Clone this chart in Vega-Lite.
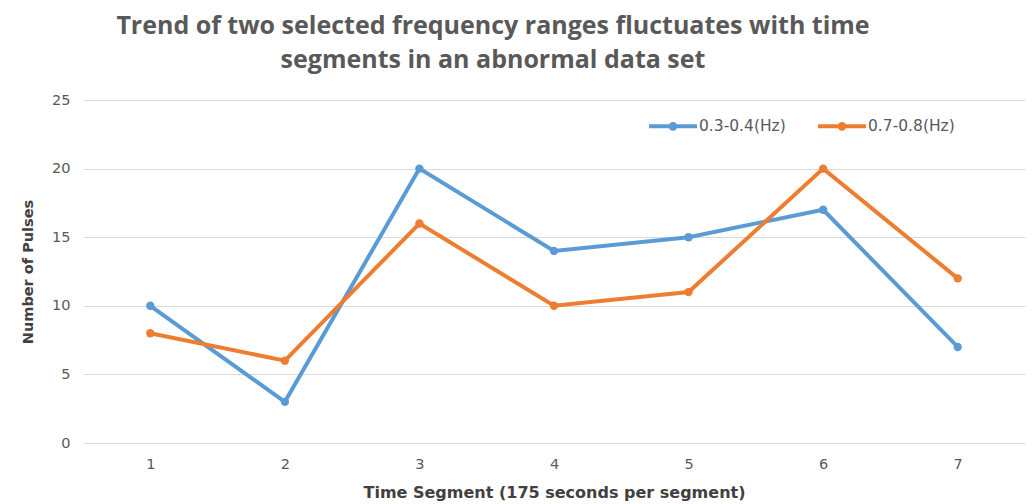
{
  "$schema": "https://vega.github.io/schema/vega-lite/v6.json",
  "autosize": "none",
  "width": 942,
  "height": 343,
  "padding": {"left": 83, "top": 100, "right": 8, "bottom": 61},
  "background": "white",
  "view": {"stroke": null},
  "title": {
    "text": ["Trend of two selected frequency ranges fluctuates with time", "segments in an abnormal data set"],
    "font": "Open Sans",
    "fontSize": 25,
    "fontWeight": "bold",
    "color": "#595959",
    "anchor": "middle",
    "dx": -61,
    "offset": 19,
    "lineHeight": 34
  },
  "data": {
    "values": [
      {"segment": "1", "series": "0.3-0.4(Hz)", "pulses": 10},
      {"segment": "2", "series": "0.3-0.4(Hz)", "pulses": 3},
      {"segment": "3", "series": "0.3-0.4(Hz)", "pulses": 20},
      {"segment": "4", "series": "0.3-0.4(Hz)", "pulses": 14},
      {"segment": "5", "series": "0.3-0.4(Hz)", "pulses": 15},
      {"segment": "6", "series": "0.3-0.4(Hz)", "pulses": 17},
      {"segment": "7", "series": "0.3-0.4(Hz)", "pulses": 7},
      {"segment": "1", "series": "0.7-0.8(Hz)", "pulses": 8},
      {"segment": "2", "series": "0.7-0.8(Hz)", "pulses": 6},
      {"segment": "3", "series": "0.7-0.8(Hz)", "pulses": 16},
      {"segment": "4", "series": "0.7-0.8(Hz)", "pulses": 10},
      {"segment": "5", "series": "0.7-0.8(Hz)", "pulses": 11},
      {"segment": "6", "series": "0.7-0.8(Hz)", "pulses": 20},
      {"segment": "7", "series": "0.7-0.8(Hz)", "pulses": 12}
    ]
  },
  "mark": {"type": "line", "strokeWidth": 4, "point": {"size": 70, "filled": true, "opacity": 1}},
  "encoding": {
    "x": {
      "field": "segment",
      "type": "ordinal",
      "scale": {"type": "point", "padding": 0.5},
      "axis": {
        "title": "Time Segment (175 seconds per segment)",
        "titleFont": "DejaVu Sans",
        "titleFontSize": 16,
        "titleFontWeight": "bold",
        "titleColor": "#404040",
        "titlePadding": 14,
        "labelFont": "DejaVu Sans",
        "labelFontSize": 14.5,
        "labelColor": "#595959",
        "labelAngle": 0,
        "labelPadding": 14,
        "domain": false,
        "ticks": false,
        "grid": false
      }
    },
    "y": {
      "field": "pulses",
      "type": "quantitative",
      "scale": {"domain": [0, 25]},
      "axis": {
        "title": "Number of Pulses",
        "values": [0, 5, 10, 15, 20, 25],
        "titleFont": "DejaVu Sans",
        "titleFontSize": 14.5,
        "titleFontWeight": "bold",
        "titleColor": "#404040",
        "titlePadding": 16,
        "labelFont": "DejaVu Sans",
        "labelFontSize": 14.5,
        "labelColor": "#595959",
        "labelPadding": 13,
        "domain": false,
        "ticks": false,
        "grid": true,
        "gridColor": "#d9d9d9",
        "gridWidth": 1
      }
    },
    "color": {
      "field": "series",
      "type": "nominal",
      "scale": {"domain": ["0.3-0.4(Hz)", "0.7-0.8(Hz)"], "range": ["#5B9BD5", "#ED7D31"]},
      "legend": {
        "title": null,
        "orient": "none",
        "legendX": 564,
        "legendY": 0,
        "direction": "horizontal",
        "columnPadding": 24,
        "symbolType": "M-1,0L1,0M0.1,0A0.1,0.1 0 1 1 -0.1,0A0.1,0.1 0 1 1 0.1,0",
        "symbolSize": 2300,
        "symbolStrokeWidth": 4,
        "labelFont": "DejaVu Sans",
        "labelFontSize": 15.5,
        "labelColor": "#595959",
        "labelOffset": 0
      }
    }
  }
}
